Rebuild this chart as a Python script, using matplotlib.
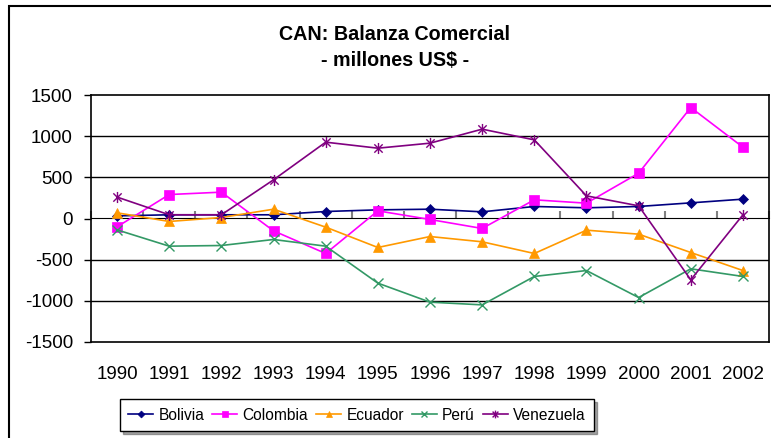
import numpy as np
import matplotlib
matplotlib.use('Agg')
import matplotlib.pyplot as plt
from matplotlib.path import Path
from matplotlib.patches import Rectangle

plt.rcParams['font.family'] = ['Liberation Sans', 'DejaVu Sans']

years = ['1990', '1991', '1992', '1993', '1994', '1995', '1996',
         '1997', '1998', '1999', '2000', '2001', '2002']
bolivia = [32, 45, 45, 45, 85, 105, 113, 81, 146, 130, 146, 190, 235]
colombia = [-101, 291, 320, -150, -425, 93, -12, -121, 227, 186, 550, 1348, 866]
ecuador = [69, -36, 12, 113, -105, -352, -219, -283, -425, -142, -190, -413, -632]
peru = [-138, -336, -328, -255, -336, -785, -1016, -1049, -704, -632, -960, -611, -704]
venezuela = [260, 45, 45, 470, 927, 854, 915, 1085, 955, 275, 154, -745, 45]

names = ['Bolivia', 'Colombia', 'Ecuador', 'Perú', 'Venezuela']
series = [bolivia, colombia, ecuador, peru, venezuela]
colors = ['#000080', '#FF00FF', '#FF9900', '#339966', '#800080']

# excel style star: x plus vertical bar
star = Path([(0, -1), (0, 1), (-0.75, -0.75), (0.75, 0.75), (-0.75, 0.75), (0.75, -0.75)],
            [Path.MOVETO, Path.LINETO, Path.MOVETO, Path.LINETO, Path.MOVETO, Path.LINETO])
markers = ['D', 's', '^', 'x', star]
msizes = [5, 7, 7, 7, 8]

fig = plt.figure(figsize=(7.71, 4.38), dpi=100)
ax = fig.add_axes([91/771, 1-342/438, 678/771, 247/438])

x = np.arange(len(years))
for vals, name, c, m, ms in zip(series, names, colors, markers, msizes):
    ax.plot(x, vals, color=c, marker=m, markersize=ms, lw=1.2, label=name,
            markeredgewidth=1.0 if m in ('x',) or m is star else 0.5)

ax.set_xlim(-0.5, len(years)-0.5)
ax.set_ylim(-1500, 1500)
ax.set_yticks(np.arange(-1500, 1501, 500))
ax.set_yticklabels([str(v) for v in range(-1500, 1501, 500)], fontsize=13.5)
for v in [-1000, -500, 500, 1000]:
    ax.axhline(v, color='black', lw=1.0, zorder=0)
ax.tick_params(axis='y', length=5, pad=8, width=1)
ax.set_xticks(x)
ax.set_xticklabels(years, fontsize=13.5)
ax.tick_params(axis='x', length=0, pad=17)
for s in ax.spines.values():
    s.set_color('black')
    s.set_linewidth(1.2)

# zero line with category tick marks
sec = ax.secondary_xaxis(0.5)
sec.set_xticks(np.arange(-0.5, len(years), 1.0))
sec.set_xticklabels([])
sec.tick_params(length=5, width=1.5, color='#808080', direction='out')
sec.spines['bottom'].set_color('#808080')
sec.spines['bottom'].set_linewidth(2)
sec.set_zorder(0.5)

fig.text(0.512, 1-35/438, 'CAN: Balanza Comercial', ha='center', va='center',
         fontsize=14.2, fontweight='bold')
fig.text(0.512, 1-60/438, '- millones US$ -', ha='center', va='center',
         fontsize=14.2, fontweight='bold')

leg = fig.legend(loc='center', bbox_to_anchor=(357/771, 1-415/438), ncol=5,
                 fontsize=11.2, frameon=True, fancybox=False, shadow=True,
                 markerscale=0.7, handlelength=1.6, columnspacing=0.5,
                 handletextpad=0.35, borderpad=0.55, borderaxespad=0)
leg.get_frame().set_edgecolor('black')
leg.get_frame().set_linewidth(1)

fig.add_artist(Rectangle((9/771, -0.1), 1.2, 1.1-6/438, transform=fig.transFigure,
                         fill=False, edgecolor='black', lw=1.5))

fig.savefig('out.png', dpi=100)
